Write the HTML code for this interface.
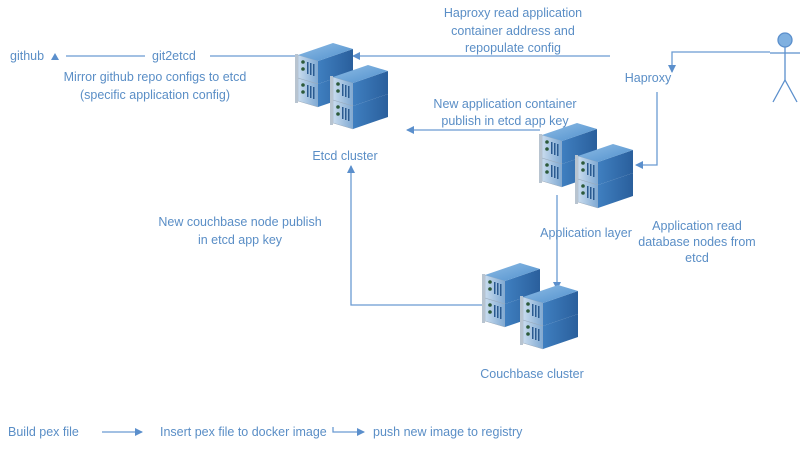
<!DOCTYPE html>
<html><head><meta charset="utf-8"><style>
body{margin:0;background:#fff}
svg text{font-family:"Liberation Sans",sans-serif;font-size:12.5px;fill:#5a8ec6}
</style></head><body>
<svg width="800" height="447" viewBox="0 0 800 447" xmlns="http://www.w3.org/2000/svg">
<defs>
<linearGradient id="tp" x1="0" y1="0" x2="1" y2="1"><stop offset="0" stop-color="#8fbde6"/><stop offset="1" stop-color="#4f8fcc"/></linearGradient>
<linearGradient id="sd" x1="0" y1="0" x2="1" y2="0"><stop offset="0" stop-color="#3f7fc0"/><stop offset="1" stop-color="#2a5f9c"/></linearGradient>
<linearGradient id="fr" x1="0" y1="0" x2="1" y2="0"><stop offset="0" stop-color="#c9dcee"/><stop offset="1" stop-color="#7fa9d3"/></linearGradient>
<g id="unit">
<polygon points="0,10 20,16 20,39 0,33" fill="url(#fr)" stroke="#9ab" stroke-width="0.5"/>
<polygon points="20,16 55,4 55,27 20,39" fill="url(#sd)"/>
<circle cx="5" cy="17" r="1.8" fill="#2d5a3a"/><circle cx="5" cy="24" r="1.8" fill="#2d5a3a"/>
<rect x="9" y="17" width="1.5" height="12" fill="#2a5a90"/><rect x="12" y="18" width="1.5" height="12" fill="#2a5a90"/><rect x="15" y="19" width="1.5" height="12" fill="#2a5a90"/>
<rect x="-3" y="9" width="3" height="26" fill="#b8c4d0"/>
</g>
<g id="rack">
<use href="#unit" y="23"/>
<use href="#unit"/>
<polygon points="0,10 35,-2 55,4 20,16" fill="url(#tp)"/>
</g>
<marker id="a" markerWidth="8" markerHeight="8" refX="7" refY="4" orient="auto" markerUnits="userSpaceOnUse"><path d="M0,0 L8,4 L0,8z" fill="#5b8fcc"/></marker>
</defs>
<g stroke="#6a9bd2" stroke-width="1.3" fill="none">
<line x1="145" y1="56" x2="66" y2="56"/>
<line x1="210" y1="56" x2="300" y2="56"/>
<line x1="610" y1="56" x2="353" y2="56" marker-end="url(#a)"/>
<polyline points="770,52 672,52 672,72" marker-end="url(#a)"/>
<polyline points="657,92 657,165 636,165" marker-end="url(#a)"/>
<line x1="540" y1="130" x2="407" y2="130" marker-end="url(#a)"/>
<polyline points="487,305 351,305 351,166" marker-end="url(#a)"/>
<line x1="557" y1="195" x2="557" y2="289" marker-end="url(#a)"/>
<line x1="102" y1="432" x2="142" y2="432" marker-end="url(#a)"/>
<polyline points="333,427 333,432 364,432" marker-end="url(#a)"/>
</g>
<path d="M51,60 L55,53 L59,60z" fill="#5b8fcc"/>
<use href="#rack" x="298" y="45"/>
<use href="#rack" x="333" y="67"/>
<use href="#rack" x="542" y="125"/>
<use href="#rack" x="578" y="146"/>
<use href="#rack" x="485" y="265"/>
<use href="#rack" x="523" y="287"/>
<g stroke="#5b8fcc" stroke-width="1.3" fill="none">
<circle cx="785" cy="40" r="7" fill="#7fb0e0"/>
<line x1="785" y1="47" x2="785" y2="80"/>
<line x1="770" y1="53" x2="800" y2="53"/>
<line x1="785" y1="80" x2="773" y2="102"/>
<line x1="785" y1="80" x2="797" y2="102"/>
</g>
<text x="10" y="60">github</text>
<text x="152" y="60">git2etcd</text>
<text x="155" y="81" text-anchor="middle">Mirror github repo configs to etcd</text>
<text x="155" y="99" text-anchor="middle">(specific application config)</text>
<text x="513" y="17" text-anchor="middle">Haproxy read application</text>
<text x="513" y="35" text-anchor="middle">container address and</text>
<text x="513" y="52" text-anchor="middle">repopulate config</text>
<text x="648" y="82" text-anchor="middle">Haproxy</text>
<text x="505" y="108" text-anchor="middle">New application container</text>
<text x="505" y="125" text-anchor="middle">publish in etcd app key</text>
<text x="345" y="160" text-anchor="middle">Etcd cluster</text>
<text x="240" y="226" text-anchor="middle">New couchbase node publish</text>
<text x="240" y="244" text-anchor="middle">in etcd app key</text>
<text x="586" y="237" text-anchor="middle">Application layer</text>
<text x="697" y="230" text-anchor="middle">Application read</text>
<text x="697" y="246" text-anchor="middle">database nodes from</text>
<text x="697" y="262" text-anchor="middle">etcd</text>
<text x="532" y="378" text-anchor="middle">Couchbase cluster</text>
<text x="8" y="436">Build pex file</text>
<text x="160" y="436">Insert pex file to docker image</text>
<text x="373" y="436">push  new image to registry</text>
</svg>
</body></html>
